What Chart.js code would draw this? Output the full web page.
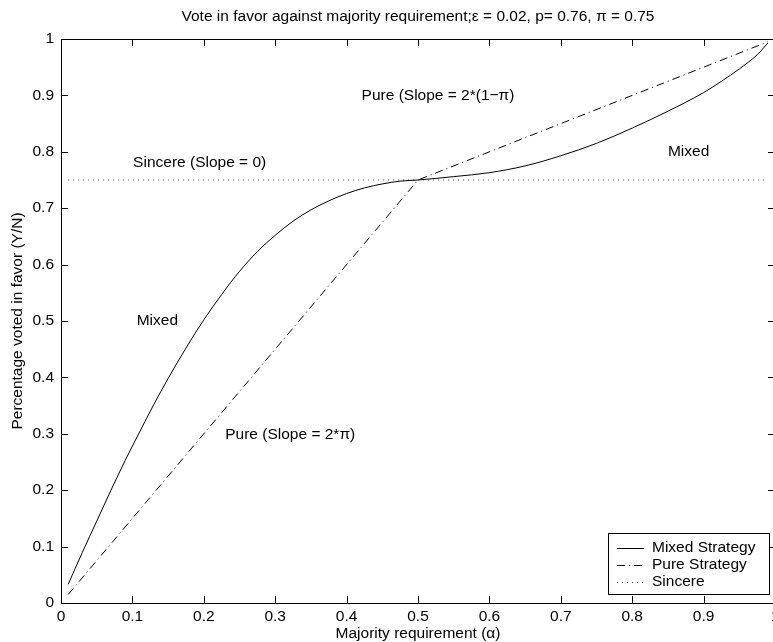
<!DOCTYPE html>
<html>
<head>
<meta charset="utf-8">
<script src="https://cdn.jsdelivr.net/npm/chart.js@4.4.0/dist/chart.umd.min.js"></script>
<style>
  html, body { margin: 0; padding: 0; background: #fff; overflow: hidden; }
  #wrap { position: absolute; left: 0; top: 0; width: 800px; height: 642px; }
</style>
</head>
<body>
<div id="wrap"><canvas id="chart" width="800" height="642"></canvas></div>
<script>
// Valores (curva mista)
const alphaMixed = [0.01, 0.03, 0.05, 0.07, 0.09, 0.11, 0.13, 0.15, 0.175, 0.2, 0.225, 0.25, 0.275, 0.3,
                    0.325, 0.35, 0.375, 0.4, 0.425, 0.45, 0.475, 0.5, 0.55, 0.6, 0.65, 0.7, 0.75, 0.8,
                    0.85, 0.9, 0.925, 0.95, 0.975, 0.99];
const mixedValues = [0.033, 0.09, 0.145, 0.2, 0.253, 0.303, 0.352, 0.398, 0.452, 0.502, 0.547, 0.588, 0.623, 0.652,
                     0.677, 0.697, 0.713, 0.726, 0.736, 0.743, 0.748, 0.75, 0.756, 0.763, 0.775, 0.793, 0.815, 0.842,
                     0.872, 0.905, 0.925, 0.947, 0.972, 0.993];

// Estratégia pura (dois trechos retos)
const alphaPure = [0.01, 0.5, 0.99];
const pureValues = [0.015, 0.75, 0.995];

// Sincero (horizontal)
const alphaSincere = [0.01, 0.99];
const sincereValues = [0.75, 0.75];

// Ticks dos eixos
const xTicks = [0, 0.1, 0.2, 0.3, 0.4, 0.5, 0.6, 0.7, 0.8, 0.9, 1];
const yTicks = [0, 0.1, 0.2, 0.3, 0.4, 0.5, 0.6, 0.7, 0.8, 0.9, 1];

// Textos dentro do gráfico
const noteTexts = ['Mixed', 'Sincere (Slope = 0)', 'Pure (Slope = 2*(1\u2212\u03c0)', 'Pure (Slope = 2*\u03c0)', 'Mixed'];
const noteX = [0.106, 0.101, 0.421, 0.23, 0.85];
const noteY = [0.5, 0.78, 0.9, 0.298, 0.8];

const seriesNames = ['Mixed Strategy', 'Pure Strategy', 'Sincere'];

const FONT = "'Liberation Sans', Arial, Helvetica, sans-serif";
const FSIZE = 15.5;
Chart.defaults.font.family = FONT;
Chart.defaults.font.size = FSIZE;
Chart.defaults.color = '#000';

function toPoints(xs, ys) {
    return xs.map((x, i) => ({ x: x, y: ys[i] }));
}

function tickLabel(v) {
    if (v === 0) return '0';
    if (v === 1) return '1';
    return v.toFixed(1);
}

// Caixa, ticks para dentro, textos e legenda no estilo MATLAB
const matlabPlugin = {
    id: 'matlabStyle',
    afterDatasetsDraw(chart) {
        const ctx = chart.ctx;
        const a = chart.chartArea;
        const xs = chart.scales.x;
        const ys = chart.scales.y;
        ctx.save();
        ctx.strokeStyle = '#000';
        ctx.lineWidth = 1;
        ctx.setLineDash([]);
        ctx.strokeRect(Math.round(a.left) + 0.5, Math.round(a.top) + 0.5,
                       Math.round(a.right - a.left), Math.round(a.bottom - a.top));
        const len = 7;
        ctx.beginPath();
        xTicks.forEach(v => {
            const px = Math.round(xs.getPixelForValue(v)) + 0.5;
            ctx.moveTo(px, a.bottom); ctx.lineTo(px, a.bottom - len);
            ctx.moveTo(px, a.top); ctx.lineTo(px, a.top + len);
        });
        yTicks.forEach(v => {
            const py = Math.round(ys.getPixelForValue(v)) + 0.5;
            ctx.moveTo(a.left, py); ctx.lineTo(a.left + len, py);
            ctx.moveTo(a.right, py); ctx.lineTo(a.right - len, py);
        });
        ctx.stroke();

        // textos
        ctx.font = FSIZE + 'px ' + FONT;
        ctx.fillStyle = '#000';
        ctx.textAlign = 'left';
        ctx.textBaseline = 'middle';
        noteTexts.forEach((t, i) => {
            ctx.fillText(t, xs.getPixelForValue(noteX[i]), ys.getPixelForValue(noteY[i]));
        });
        ctx.restore();
    },
    afterDraw(chart) {
        const ctx = chart.ctx;
        const right = 769, bottom = 594, left = 608, top = 533;
        ctx.save();
        ctx.fillStyle = '#fff';
        ctx.fillRect(left, top, right - left, bottom - top);
        ctx.strokeStyle = '#000';
        ctx.lineWidth = 1;
        ctx.setLineDash([]);
        ctx.strokeRect(left + 0.5, top + 0.5, right - left, bottom - top);
        ctx.font = FSIZE + 'px ' + FONT;
        ctx.textAlign = 'left';
        ctx.textBaseline = 'middle';
        chart.data.datasets.forEach((ds, i) => {
            const y = top + 15 + i * 17;
            ctx.strokeStyle = ds.borderColor;
            ctx.lineWidth = ds.borderWidth;
            ctx.setLineDash(ds.borderDash || []);
            ctx.beginPath();
            ctx.moveTo(617, y + 0.5);
            ctx.lineTo(644, y + 0.5);
            ctx.stroke();
            ctx.fillStyle = '#000';
            ctx.fillText(ds.label, 652, y);
        });
        ctx.restore();
    }
};

new Chart(document.getElementById('chart'), {
    type: 'line',
    data: {
        datasets: [
            {
                label: seriesNames[0],
                data: toPoints(alphaMixed, mixedValues),
                borderColor: '#000',
                borderWidth: 1,
                pointRadius: 0,
                cubicInterpolationMode: 'monotone'
            },
            {
                label: seriesNames[1],
                data: toPoints(alphaPure, pureValues),
                borderColor: '#000',
                borderWidth: 1,
                borderDash: [8, 4, 1, 4],
                pointRadius: 0
            },
            {
                label: seriesNames[2],
                data: toPoints(alphaSincere, sincereValues),
                borderColor: '#444',
                borderWidth: 1,
                borderDash: [1, 4],
                pointRadius: 0
            }
        ]
    },
    options: {
        responsive: false,
        animation: false,
        layout: { padding: { left: 0, right: 25, top: 0, bottom: 0 } },
        plugins: {
            legend: { display: false },
            tooltip: { enabled: false },
            title: {
                display: true,
                fullSize: false,
                text: 'Vote in favor against majority requirement;\u03b5 = 0.02, p= 0.76, \u03c0 = 0.75',
                font: { size: FSIZE, weight: 'normal' },
                color: '#000',
                padding: { top: 7, bottom: 13.4 }
            }
        },
        scales: {
            x: {
                type: 'linear',
                min: 0,
                max: 1,
                afterBuildTicks: s => { s.ticks = xTicks.map(v => ({ value: v })); },
                afterFit: s => { s.height = 39; },
                grid: { display: false, drawTicks: false },
                border: { display: false },
                ticks: { padding: 4, maxRotation: 0, autoSkip: false, callback: v => tickLabel(v) },
                title: { display: true, text: 'Majority requirement (\u03b1)', padding: { top: 0, bottom: -1 } }
            },
            y: {
                type: 'linear',
                min: 0,
                max: 1,
                afterBuildTicks: s => { s.ticks = yTicks.map(v => ({ value: v })); },
                afterFit: s => { s.width = 61; },
                grid: { display: false, drawTicks: false },
                border: { display: false },
                ticks: { padding: 7, autoSkip: false, callback: v => tickLabel(v) },
                title: { display: true, text: 'Percentage voted in favor (Y/N)', padding: { top: 8, bottom: 0 } }
            }
        }
    },
    plugins: [matlabPlugin]
});
</script>
</body>
</html>
